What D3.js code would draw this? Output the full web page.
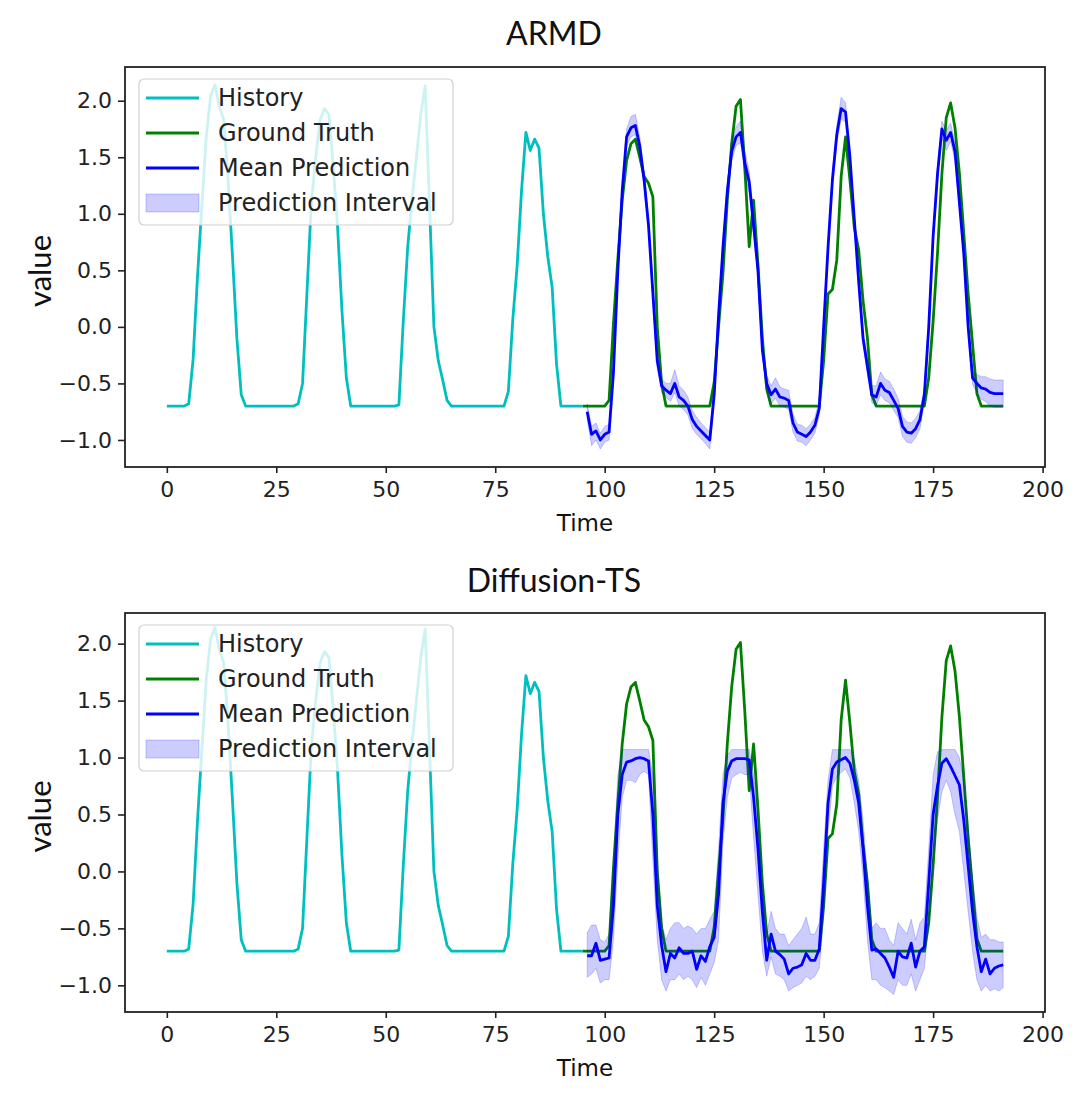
<!DOCTYPE html>
<html><head><meta charset="utf-8">
<script src="https://cdn.jsdelivr.net/npm/d3@7"></script>
<style>body{margin:0;background:#fff}</style>
</head><body>
<svg id="c" width="1080" height="1102"></svg>
<script>
// ---------- data ----------
const historyT0 = 0;
const historyVals = [-0.70,-0.70,-0.70,-0.70,-0.70,-0.68,-0.29,0.44,1.07,1.68,2.04,2.14,1.95,1.83,1.3,0.62,-0.1,-0.6,-0.70,
-0.70,-0.70,-0.70,-0.70,-0.70,-0.70,-0.70,-0.70,-0.70,-0.70,-0.70,-0.68,-0.5,0.3,1.09,1.5,1.83,1.93,1.88,1.43,0.88,0.14,-0.45,-0.70,
-0.70,-0.70,-0.70,-0.70,-0.70,-0.70,-0.70,-0.70,-0.70,-0.70,-0.69,0.05,0.7,1.13,1.5,1.88,2.13,1.07,0.0,-0.3,-0.47,-0.65,-0.70,
-0.70,-0.70,-0.70,-0.70,-0.70,-0.70,-0.70,-0.70,-0.70,-0.70,-0.70,-0.70,-0.57,0.06,0.54,1.2,1.72,1.56,1.66,1.58,1.0,0.62,0.35,-0.33,-0.70,
-0.70,-0.70,-0.70,-0.70,-0.70];
const truthT0 = 95;
const truthVals = [-0.70,-0.70,-0.70,-0.70,-0.70,-0.70,-0.65,0.03,0.6,1.12,1.47,1.62,1.66,1.5,1.33,1.27,1.15,0.0,-0.5,-0.70,
-0.70,-0.70,-0.70,-0.70,-0.70,-0.70,-0.70,-0.70,-0.70,-0.70,-0.49,0.0,0.47,1.12,1.62,1.95,2.01,1.4,0.71,1.12,0.55,-0.1,-0.55,-0.70,
-0.70,-0.70,-0.70,-0.70,-0.70,-0.70,-0.70,-0.70,-0.70,-0.70,-0.70,-0.3,0.29,0.33,0.59,1.33,1.68,1.3,0.88,0.68,0.23,-0.1,-0.6,-0.70,
-0.70,-0.70,-0.70,-0.70,-0.70,-0.70,-0.70,-0.70,-0.70,-0.70,-0.70,-0.45,0.05,0.65,1.35,1.85,1.98,1.76,1.36,0.83,0.29,-0.15,-0.59,
-0.70,-0.70,-0.70,-0.70,-0.70,-0.70];
const predT0 = 96;
// ARMD
const armdMean = [-0.75,-0.95,-0.92,-1.0,-0.95,-0.93,-0.4,0.5,1.2,1.68,1.76,1.78,1.6,1.3,0.9,0.3,-0.3,-0.52,-0.56,-0.59,-0.5,-0.62,-0.65,-0.7,-0.82,-0.88,-0.92,-0.96,-1.0,
-0.6,0.1,0.7,1.2,1.55,1.68,1.72,1.45,1.28,0.9,0.5,-0.2,-0.5,-0.6,-0.55,-0.62,-0.63,-0.65,-0.85,-0.93,-0.95,-0.97,-0.93,-0.87,-0.72,
0.0,0.7,1.3,1.7,1.93,1.9,1.5,0.95,0.4,-0.1,-0.35,-0.6,-0.62,-0.5,-0.56,-0.58,-0.65,-0.72,-0.88,-0.93,-0.94,-0.9,-0.82,-0.6,
0.0,0.8,1.35,1.75,1.65,1.72,1.55,1.1,0.65,0.0,-0.45,-0.5,-0.54,-0.55,-0.58,-0.59,-0.59,-0.59];
const armdLower = [-0.82,-1.05,-1.0,-1.08,-1.02,-1.0,-0.46,0.44,1.13,1.6,1.68,1.7,1.52,1.22,0.83,0.24,-0.36,-0.58,-0.62,-0.66,-0.58,-0.7,-0.73,-0.78,-0.9,-0.95,-0.99,-1.03,-1.08,
-0.67,0.04,0.64,1.13,1.47,1.6,1.63,1.35,1.18,0.82,0.43,-0.26,-0.57,-0.68,-0.63,-0.7,-0.71,-0.73,-0.93,-1.01,-1.02,-1.05,-1.0,-0.94,-0.78,
-0.06,0.64,1.23,1.62,1.84,1.81,1.42,0.88,0.34,-0.16,-0.42,-0.67,-0.7,-0.6,-0.65,-0.67,-0.74,-0.8,-0.97,-1.02,-1.03,-0.98,-0.9,-0.67,
-0.06,0.74,1.28,1.67,1.56,1.64,1.47,1.03,0.59,-0.06,-0.51,-0.58,-0.64,-0.66,-0.7,-0.71,-0.71,-0.71];
const armdUpper = [-0.68,-0.88,-0.85,-0.94,-0.88,-0.86,-0.34,0.56,1.27,1.75,1.86,1.88,1.68,1.38,0.97,0.36,-0.24,-0.46,-0.5,-0.5,-0.38,-0.52,-0.56,-0.62,-0.74,-0.8,-0.85,-0.89,-0.93,
-0.53,0.16,0.76,1.27,1.63,1.77,1.82,1.55,1.38,0.98,0.57,-0.14,-0.43,-0.52,-0.45,-0.53,-0.55,-0.56,-0.77,-0.86,-0.87,-0.9,-0.86,-0.8,-0.65,
0.06,0.76,1.37,1.78,2.03,1.98,1.58,1.02,0.46,-0.04,-0.28,-0.52,-0.52,-0.4,-0.46,-0.48,-0.55,-0.63,-0.79,-0.84,-0.85,-0.81,-0.74,-0.53,
0.06,0.86,1.42,1.82,1.74,1.8,1.63,1.17,0.71,0.06,-0.39,-0.42,-0.44,-0.44,-0.46,-0.47,-0.47,-0.47];
// Diffusion-TS
const diffMean = [-0.74,-0.74,-0.63,-0.78,-0.77,-0.76,-0.3,0.5,0.85,0.96,0.97,0.99,1.0,0.99,0.97,0.5,-0.3,-0.65,-0.88,-0.72,-0.76,-0.67,-0.72,-0.72,-0.70,-0.86,-0.74,-0.79,-0.66,
-0.58,-0.2,0.6,0.88,0.97,0.99,0.99,0.99,0.98,0.65,0.2,-0.35,-0.78,-0.55,-0.7,-0.73,-0.77,-0.9,-0.85,-0.84,-0.82,-0.72,-0.78,-0.78,-0.68,
-0.1,0.6,0.9,0.96,0.98,1.0,0.95,0.8,0.6,0.2,-0.3,-0.69,-0.68,-0.72,-0.76,-0.84,-0.93,-0.7,-0.75,-0.76,-0.63,-0.84,-0.7,-0.66,
-0.1,0.5,0.75,0.95,0.99,0.92,0.84,0.76,0.45,0.05,-0.35,-0.66,-0.88,-0.77,-0.9,-0.85,-0.83,-0.82];
const diffLower = [-0.93,-0.9,-0.85,-0.98,-0.95,-0.95,-0.6,0.1,0.65,0.8,0.8,0.78,0.85,0.88,0.85,0.1,-0.6,-0.95,-1.05,-0.95,-0.95,-0.9,-0.95,-0.92,-0.95,-1.02,-0.93,-1.0,-0.9,
-0.8,-0.6,0.25,0.65,0.82,0.85,0.87,0.85,0.85,0.3,-0.2,-0.7,-0.92,-0.75,-0.9,-0.92,-0.95,-1.05,-1.02,-1.0,-0.98,-0.92,-0.95,-0.92,-0.85,
-0.4,0.35,0.75,0.83,0.87,0.9,0.82,0.6,0.35,-0.05,-0.6,-0.95,-0.95,-1.0,-1.02,-1.05,-1.08,-0.95,-1.0,-1.0,-0.9,-1.05,-0.95,-0.85,
-0.45,0.1,0.45,0.7,0.8,0.7,0.5,0.35,0.0,-0.35,-0.7,-0.95,-1.05,-1.0,-1.05,-1.03,-1.05,-1.02];
const diffUpper = [-0.54,-0.47,-0.47,-0.6,-0.62,-0.55,0.1,0.85,1.07,1.07,1.07,1.07,1.07,1.07,1.07,0.85,0.1,-0.45,-0.6,-0.5,-0.45,-0.45,-0.5,-0.48,-0.5,-0.55,-0.5,-0.5,-0.42,
-0.35,0.2,0.85,1.02,1.07,1.07,1.07,1.07,1.07,0.85,0.45,-0.1,-0.55,-0.35,-0.5,-0.55,-0.55,-0.65,-0.6,-0.55,-0.5,-0.4,-0.55,-0.55,-0.45,
0.2,0.8,1.07,1.07,1.07,1.07,1.07,0.98,0.8,0.45,-0.05,-0.5,-0.45,-0.5,-0.5,-0.6,-0.65,-0.45,-0.5,-0.55,-0.42,-0.6,-0.45,-0.4,
0.2,0.85,1.05,1.07,1.07,1.07,1.07,1.0,0.8,0.4,-0.05,-0.4,-0.58,-0.55,-0.6,-0.6,-0.62,-0.62];

const titles = ["ARMD", "Diffusion-TS"];
const xTicks = [0,25,50,75,100,125,150,175,200];
const yTicks = [-1.0,-0.5,0.0,0.5,1.0,1.5,2.0];
const yTickLabels = ["\u22121.0","\u22120.5","0.0","0.5","1.0","1.5","2.0"];
const legendLabels = ["History","Ground Truth","Mean Prediction","Prediction Interval"];
const xLabel = "Time", yLabel = "value";

// ---------- drawing ----------
const svg = d3.select("#c");
const COL = {hist:"#00bfbf", truth:"#008000", mean:"#0000ff", band:"rgba(0,0,255,0.2)"};
const tickFont = "'DejaVu Sans',sans-serif";
const titleFont = "Lato,'Open Sans',sans-serif";

const panels = [
  {title:titles[0], mean:armdMean, lo:armdLower, hi:armdUpper, y0:67, y1:467, ydom:[-1.239,2.298], titleY:45},
  {title:titles[1], mean:diffMean, lo:diffLower, hi:diffUpper, y0:613, y1:1012, ydom:[-1.234,2.269], titleY:592}
];
const X0 = 125, X1 = 1045;

panels.forEach(p => {
  const g = svg.append("g");
  const x = d3.scaleLinear().domain([-9.55, 200.55]).range([X0, X1]);
  const y = d3.scaleLinear().domain(p.ydom).range([p.y1, p.y0]);

  const hist = historyVals.map((v,i)=>({t:historyT0+i, v}));
  const truth = truthVals.map((v,i)=>({t:truthT0+i, v}));
  const pred = p.mean.map((v,i)=>({t:predT0+i, v, lo:p.lo[i], hi:p.hi[i]}));

  const line = d3.line().x(d=>x(d.t)).y(d=>y(d.v));
  const area = d3.area().x(d=>x(d.t)).y0(d=>y(d.lo)).y1(d=>y(d.hi));

  const lw = 2.8;
  g.append("path").attr("d", line(hist)).attr("fill","none").attr("stroke",COL.hist).attr("stroke-width",lw).attr("stroke-linejoin","round");
  g.append("path").attr("d", line(truth)).attr("fill","none").attr("stroke",COL.truth).attr("stroke-width",lw).attr("stroke-linejoin","round");
  g.append("path").attr("d", line(pred)).attr("fill","none").attr("stroke",COL.mean).attr("stroke-width",lw).attr("stroke-linejoin","round");
  g.append("path").attr("d", area(pred)).attr("fill",COL.band).attr("stroke",COL.band).attr("stroke-width",1);

  // frame
  g.append("rect").attr("x",X0).attr("y",p.y0).attr("width",X1-X0).attr("height",p.y1-p.y0)
    .attr("fill","none").attr("stroke","#222").attr("stroke-width",1.8);

  // axes
  const xa = g.append("g").attr("transform",`translate(0,${p.y1})`)
    .call(d3.axisBottom(x).tickValues(xTicks).tickFormat(d3.format("d")).tickSize(6).tickPadding(8));
  const ya = g.append("g").attr("transform",`translate(${X0},0)`)
    .call(d3.axisLeft(y).tickValues(yTicks).tickFormat((d,i)=>yTickLabels[i]).tickSize(7).tickPadding(6));
  [xa,ya].forEach(a=>{
    a.select(".domain").remove();
    a.selectAll("line").attr("stroke","#222").attr("stroke-width",1.6);
    a.selectAll("text").attr("font-family",tickFont).attr("font-size",22).attr("fill","#222");
  });

  // labels
  g.append("text").attr("x",585).attr("y",p.y1+64).attr("text-anchor","middle")
    .attr("font-family",tickFont).attr("font-size",23).attr("fill","#111").text(xLabel);
  g.append("text").attr("transform",`translate(51,${(p.y0+p.y1)/2+4}) rotate(-90)`).attr("text-anchor","middle")
    .attr("font-family",titleFont).attr("font-size",31).attr("fill","#111").text(yLabel);
  g.append("text").attr("x",554).attr("y",p.titleY).attr("text-anchor","middle")
    .attr("font-family",titleFont).attr("font-size",32).attr("fill","#111").text(p.title);

  // legend
  const lx = 139, ly = p.y0 + 12;
  const lg = g.append("g");
  lg.append("rect").attr("x",lx).attr("y",ly).attr("width",314).attr("height",146).attr("rx",5)
    .attr("fill","rgba(255,255,255,0.8)").attr("stroke","#d0d0d0").attr("stroke-width",1.2);
  const rows = [19,54,89,124];
  const kinds = ["hist","truth","mean","band"];
  legendLabels.forEach((lab,i)=>{
    const cy = ly + rows[i];
    if (kinds[i]==="band") {
      lg.append("rect").attr("x",lx+7).attr("y",cy-9).attr("width",53).attr("height",18)
        .attr("fill",COL.band).attr("stroke",COL.band);
    } else {
      lg.append("line").attr("x1",lx+7).attr("x2",lx+60).attr("y1",cy).attr("y2",cy)
        .attr("stroke",COL[kinds[i]]).attr("stroke-width",lw);
    }
    lg.append("text").attr("x",lx+79).attr("y",cy).attr("dy","0.35em")
      .attr("font-family","'DejaVu Sans',sans-serif").attr("font-size",24).attr("fill","#222").text(lab);
  });
});
</script>
</body></html>
